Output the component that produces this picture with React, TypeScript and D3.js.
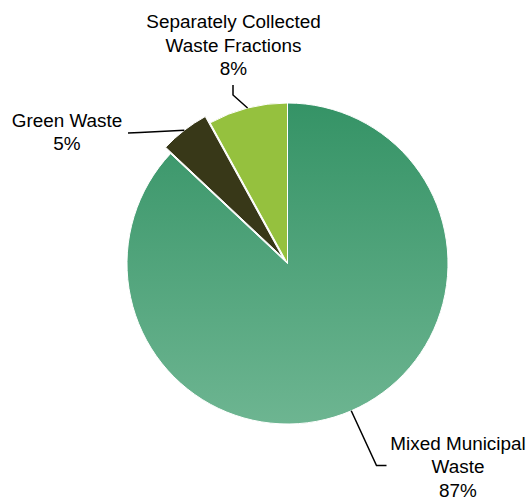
import React from "react";
import * as d3 from "d3";

const categories = ["Mixed Municipal Waste", "Green Waste", "Separately Collected Waste Fractions"];
const values = [87, 5, 8];
const labelLines = [
  ["Mixed Municipal", "Waste", "87%"],
  ["Green Waste", "5%"],
  ["Separately Collected", "Waste Fractions", "8%"],
];
const colors = ["url(#mixedGrad)", "#383818", "#95c13e"];
const explode = [0, 8, 0];

// layout (annotation placement)
const W = 529, H = 499;
const cx = 287.5, cy = 263.5, R = 160.5;
const labelPos = [
  { x: 458, y: 449.5, knee: [376.5, 465.5], end: [386.5, 465.5] },
  { x: 67, y: 126.5, knee: [140, 132.5], end: [128, 133] },
  { x: 233.5, y: 28.3, knee: [233, 95], end: [233, 85] },
];
const lineH = 23.5;

export default function App() {
  const pie = d3.pie<number>().sort(null).startAngle(0).endAngle(2 * Math.PI);
  const arcs = pie(values);
  const arcGen = d3.arc<d3.PieArcDatum<number>>().innerRadius(0).outerRadius(R);

  return (
    <svg width={W} height={H} style={{ position: "absolute", left: 0, top: 0, background: "#fff" }}
      fontFamily="'Liberation Sans', Arial, sans-serif">
      <defs>
        <linearGradient id="mixedGrad" gradientUnits="userSpaceOnUse" x1={0} y1={-R} x2={0} y2={R}>
          <stop offset="0%" stopColor="#359366" />
          <stop offset="100%" stopColor="#6db591" />
        </linearGradient>
      </defs>
      <g transform={`translate(${cx},${cy})`}>
        {arcs.map((a, i) => {
          const mid = (a.startAngle + a.endAngle) / 2;
          const dx = Math.sin(mid) * explode[i];
          const dy = -Math.cos(mid) * explode[i];
          return (
            <path key={categories[i]} d={arcGen(a) || ""} fill={colors[i]}
              stroke="#fff" strokeWidth={1} transform={`translate(${dx},${dy})`} />
          );
        })}
      </g>
      {arcs.map((a, i) => {
        const mid = (a.startAngle + a.endAngle) / 2;
        const r = R + explode[i];
        const sx = cx + Math.sin(mid) * r;
        const sy = cy - Math.cos(mid) * r;
        const lp = labelPos[i];
        return (
          <g key={"l" + i}>
            <polyline points={`${sx},${sy} ${lp.knee[0]},${lp.knee[1]} ${lp.end[0]},${lp.end[1]}`}
              fill="none" stroke="#000" strokeWidth={1.5} />
            <text textAnchor="middle" fontSize={18.9} fill="#000">
              {labelLines[i].map((t, j) => (
                <tspan key={j} x={lp.x} y={lp.y + j * lineH}>{t}</tspan>
              ))}
            </text>
          </g>
        );
      })}
    </svg>
  );
}
